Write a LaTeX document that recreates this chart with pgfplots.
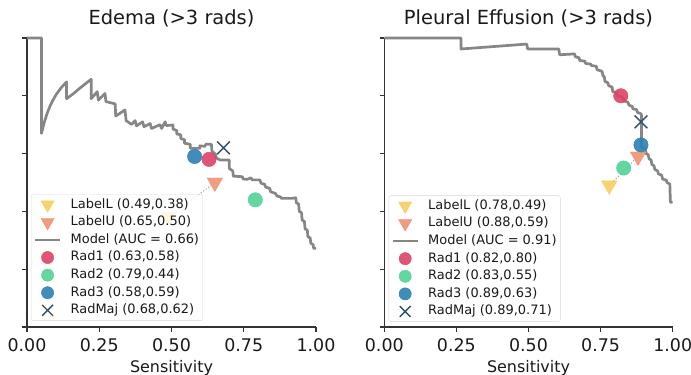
\documentclass[border=0pt]{standalone}
\usepackage{pgfplots}
\pgfplotsset{compat=1.18}
\usepackage{fontspec}
\setmainfont{DejaVu Sans}
\definecolor{cLL}{HTML}{F6CF62}
\definecolor{cLU}{HTML}{F09272}
\definecolor{cR1}{HTML}{DC4466}
\definecolor{cR2}{HTML}{52D396}
\definecolor{cR3}{HTML}{2C80B4}
\definecolor{cRM}{HTML}{2F4F66}
\definecolor{cAx}{HTML}{333333}
\pgfplotsset{
  prstyle/.style={
    scale only axis, width=289bp, height=289bp,
    xmin=0, xmax=1, ymin=0, ymax=1, clip=false,
    axis x line*=bottom, axis y line*=left, tick pos=left,
    axis line style={cAx, line width=1.2bp},
    every tick/.style={cAx, line width=1.2bp},
    tick align=outside, major tick length=4.5bp,
    xtick={0,0.25,0.5,0.75,1}, xticklabels={0.00,0.25,0.50,0.75,1.00},
    ytick={0,0.2,0.4,0.6,0.8,1}, yticklabels={},
    every x tick label/.append style={font=\fontsize{17.5}{17.5}\selectfont, text=black!90, anchor=base, yshift=-19.5bp},
    xlabel={Sensitivity},
    xlabel style={font=\fontsize{16}{16}\selectfont, text=black!90, at={(0.5,0)}, anchor=base, yshift=-45bp},
    title style={font=\fontsize{19.5}{19.5}\selectfont, text=black!90, at={(0.5,1)}, anchor=base, yshift=8bp},
    legend cell align=left,
    legend image code/.code={\draw[mark repeat=2,mark phase=2,#1, every mark/.append style={scale=0.85}] plot coordinates {(0bp,0bp) (12.5bp,0bp) (25bp,0bp)};},
    legend style={font=\fontsize{13}{15}\selectfont, text=black!90, fill=white, fill opacity=0.8, text opacity=1, draw=black!15, rounded corners=2bp, inner sep=2.5bp, row sep=2.4bp, column sep=8bp,
      nodes={inner sep=1.2bp, text height=9.8bp, text depth=3bp},
      anchor=south west},
  },
  mLL/.style={only marks, mark=triangle*, mark size=9bp, mark options={rotate=180, fill=cLL, draw=cLL, fill opacity=0.9}},
  mLU/.style={only marks, mark=triangle*, mark size=9bp, mark options={rotate=180, fill=cLU, draw=cLU, fill opacity=0.9}},
  mR1/.style={only marks, mark=*, mark size=7.2bp, mark options={fill=cR1, draw=cR1, fill opacity=0.9}},
  mR2/.style={only marks, mark=*, mark size=7.2bp, mark options={fill=cR2, draw=cR2, fill opacity=0.9}},
  mR3/.style={only marks, mark=*, mark size=7.2bp, mark options={fill=cR3, draw=cR3, fill opacity=0.9}},
  mRM/.style={only marks, mark=x, mark size=9bp, mark options={draw=cRM, line width=1.4bp}},
  model/.style={no marks, color=gray!95, line width=2.7bp, line join=round},
  conn/.style={no marks, color=black!35, dotted, line width=1.1bp, forget plot},
}
\begin{document}
\begin{tikzpicture}
\path[use as bounding box] (0,0) rectangle (691bp,375bp);
% ---------------- Left: Edema
\begin{axis}[prstyle, at={(27bp,48bp)}, anchor=south west,
  title={Edema (>3 rads)},
  legend style={at={(0.014,0.022)}}]
\addplot[conn] coordinates {(0.49,0.38) (0.65,0.50)};
\addplot[mLL] coordinates {(0.49,0.38)};
\addlegendentry{LabelL (0.49,0.38)}
\addplot[mLU] coordinates {(0.65,0.50)};
\addlegendentry{LabelU (0.65,0.50)}
\addplot[model] coordinates {
(0,1) (0.05,1) (0.05,0.67) (0.06,0.709) (0.07,0.74) (0.08,0.765) (0.09,0.785)
(0.10,0.803) (0.11,0.817) (0.12,0.83) (0.137,0.848) (0.137,0.79) (0.16,0.807)
(0.18,0.824) (0.20,0.84) (0.222,0.857) (0.222,0.79) (0.243,0.814) (0.247,0.785)
(0.27,0.808) (0.273,0.78) (0.305,0.772) (0.307,0.73) (0.339,0.751) (0.343,0.714)
(0.362,0.701) (0.374,0.714) (0.379,0.696) (0.40,0.71) (0.405,0.693) (0.426,0.704)
(0.431,0.687) (0.46,0.70) (0.466,0.687) (0.478,0.71) (0.482,0.697) (0.505,0.699)
(0.505,0.685) (0.518,0.68) (0.518,0.668) (0.532,0.665) (0.532,0.652) (0.545,0.648)
(0.545,0.636) (0.565,0.632) (0.565,0.618) (0.598,0.618) (0.598,0.627) (0.615,0.625)
(0.62,0.633) (0.638,0.632) (0.64,0.608) (0.652,0.598) (0.655,0.585) (0.668,0.578)
(0.70,0.578) (0.70,0.548) (0.712,0.54) (0.714,0.522) (0.745,0.52) (0.748,0.512)
(0.762,0.511) (0.775,0.516) (0.78,0.509) (0.806,0.509) (0.81,0.497) (0.822,0.494)
(0.826,0.484) (0.84,0.48) (0.843,0.468) (0.86,0.462) (0.865,0.453) (0.878,0.45)
(0.88,0.445) (0.915,0.445) (0.93,0.447) (0.932,0.43) (0.94,0.425) (0.942,0.40)
(0.95,0.395) (0.952,0.37) (0.96,0.365) (0.962,0.34) (0.97,0.335) (0.972,0.312)
(0.98,0.308) (0.982,0.29) (0.99,0.285) (0.992,0.272) (1.0,0.272)};
\addlegendentry{Model (AUC = 0.66)}
\addplot[mR1] coordinates {(0.63,0.58)};
\addlegendentry{Rad1 (0.63,0.58)}
\addplot[mR2] coordinates {(0.79,0.44)};
\addlegendentry{Rad2 (0.79,0.44)}
\addplot[mR3] coordinates {(0.58,0.59)};
\addlegendentry{Rad3 (0.58,0.59)}
\addplot[mRM] coordinates {(0.68,0.62)};
\addlegendentry{RadMaj (0.68,0.62)}
\end{axis}
% ---------------- Right: Pleural Effusion
\begin{axis}[prstyle, width=288.4bp, at={(384.3bp,48bp)}, anchor=south west,
  title={Pleural Effusion (>3 rads)},
  legend style={at={(0.015,0.018)}}]
\addplot[conn] coordinates {(0.78,0.49) (0.88,0.59)};
\addplot[mLL] coordinates {(0.78,0.49)};
\addlegendentry{LabelL (0.78,0.49)}
\addplot[mLU] coordinates {(0.88,0.59)};
\addlegendentry{LabelU (0.88,0.59)}
\addplot[model] coordinates {
(0,1) (0.266,1) (0.266,0.962) (0.494,0.979) (0.497,0.962) (0.605,0.962) (0.608,0.942)
(0.66,0.945) (0.662,0.935) (0.675,0.932) (0.678,0.922) (0.695,0.92) (0.698,0.912)
(0.715,0.91) (0.718,0.905) (0.735,0.902) (0.738,0.89) (0.755,0.885) (0.758,0.87)
(0.763,0.865) (0.765,0.85) (0.775,0.845) (0.778,0.835) (0.79,0.83) (0.792,0.815)
(0.805,0.81) (0.808,0.80) (0.82,0.797) (0.83,0.79) (0.832,0.782) (0.845,0.778)
(0.848,0.768) (0.86,0.763) (0.862,0.755) (0.875,0.752) (0.878,0.742) (0.89,0.738)
(0.892,0.732) (0.892,0.622) (0.905,0.615) (0.908,0.60) (0.915,0.596) (0.918,0.582)
(0.925,0.578) (0.928,0.562) (0.935,0.558) (0.938,0.545) (0.948,0.54) (0.95,0.53)
(0.962,0.525) (0.965,0.512) (0.978,0.508) (0.98,0.50) (0.99,0.495) (0.992,0.432)
(1.0,0.432)};
\addlegendentry{Model (AUC = 0.91)}
\addplot[mR1] coordinates {(0.82,0.80)};
\addlegendentry{Rad1 (0.82,0.80)}
\addplot[mR2] coordinates {(0.83,0.55)};
\addlegendentry{Rad2 (0.83,0.55)}
\addplot[mR3] coordinates {(0.89,0.63)};
\addlegendentry{Rad3 (0.89,0.63)}
\addplot[mRM] coordinates {(0.89,0.71)};
\addlegendentry{RadMaj (0.89,0.71)}
\end{axis}
\end{tikzpicture}
\end{document}
